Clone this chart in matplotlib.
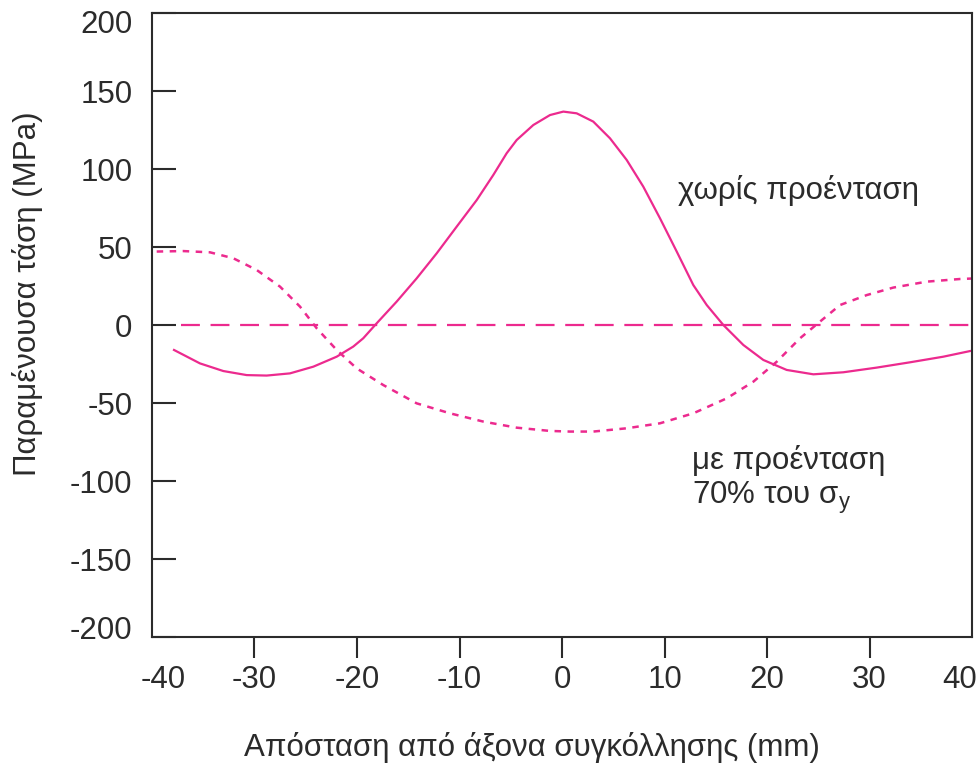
import matplotlib
matplotlib.use("Agg")
import matplotlib.pyplot as plt
from matplotlib.transforms import ScaledTranslation

# ------------------------------
# data
# ------------------------------
x_solid = [-37.85, -35.32, -33.04, -30.76, -28.81, -26.54, -24.26, -21.98, -20.36, -19.39,
           -18.08, -16.13, -14.18, -12.22, -10.27, -8.32, -6.70, -5.40, -4.42, -2.80,
           -1.17, 0.13, 1.43, 3.05, 4.68, 6.31, 7.93, 9.56, 11.19, 12.81,
           14.12, 15.74, 17.69, 19.64, 21.92, 24.52, 27.44, 30.70, 33.95, 37.20, 39.80]
y_solid = [-16.0, -24.6, -29.5, -32.1, -32.4, -31.0, -26.7, -20.3, -13.8, -8.5,
           1.1, 15.0, 29.9, 46.0, 63.1, 80.1, 96.2, 110.1, 118.6, 128.2,
           134.6, 136.8, 135.7, 130.4, 119.7, 105.8, 88.7, 68.4, 47.1, 25.6,
           12.8, 0.0, -12.8, -22.4, -28.8, -31.6, -30.3, -27.3, -23.9, -20.3, -16.7]

x_dot = [-39.54, -36.95, -34.34, -32.07, -29.79, -27.51, -25.56, -23.93, -21.98, -20.03,
         -17.43, -14.18, -10.93, -7.68, -4.42, -1.17, 0.78, 3.05, 6.31, 9.56,
         12.81, 16.07, 18.67, 20.95, 23.22, 25.17, 27.12, 29.73, 32.32, 35.58, 38.83, 40.0]
y_dot = [47.1, 47.4, 46.6, 42.8, 35.3, 24.6, 11.8, -2.1, -16.0, -27.8,
         -38.5, -50.2, -56.6, -61.9, -65.8, -67.9, -68.3, -68.3, -66.2, -63.0,
         -56.6, -47.0, -36.3, -23.5, -8.5, 2.2, 12.8, 19.2, 24.0, 27.8, 29.5, 29.8]

x_zero = [-37.2, 40]
y_zero = [0, 0]

xticks = [-40, -30, -20, -10, 0, 10, 20, 30, 40]
yticks = [-200, -150, -100, -50, 0, 50, 100, 150, 200]

# ------------------------------
# style
# ------------------------------
plt.rcParams["font.family"] = ["Liberation Sans", "DejaVu Sans"]
plt.rcParams["mathtext.fontset"] = "custom"
plt.rcParams["mathtext.rm"] = "Liberation Sans"
plt.rcParams["mathtext.it"] = "Liberation Sans"
plt.rcParams["axes.unicode_minus"] = False

pink = "#ec2a8e"
ink = "#2b2b2b"
fs = 22.5

fig = plt.figure(figsize=(9.78, 7.70), dpi=100)
ax = fig.add_axes([0.1554, 0.1727, 0.8385, 0.8104])

ax.plot(x_solid, y_solid, color=pink, lw=1.6)
ax.plot(x_dot, y_dot, color=pink, lw=1.8, linestyle=(0, (2.6, 2.6)))
ax.plot(x_zero, y_zero, color=pink, lw=1.6, linestyle=(0, (8.5, 4.8)))

ax.set_xlim(-40, 40)
ax.set_ylim(-200, 200)
ax.set_xticks(xticks)
ax.set_yticks(yticks)

for s in ax.spines.values():
    s.set_color(ink)
    s.set_linewidth(1.5)

ax.tick_params(axis="x", direction="out", length=15, width=1.5, color=ink,
               labelsize=fs, labelcolor=ink, pad=5)
ax.tick_params(axis="y", direction="in", length=17, width=1.5, color=ink,
               labelsize=fs, labelcolor=ink, pad=14)

# no tick marks at the ends of the x axis
xt = ax.xaxis.get_major_ticks()
xt[0].tick1line.set_visible(False)
xt[-1].tick1line.set_visible(False)

# end labels sit a little inside the frame
fig.canvas.draw()
xl = ax.get_xticklabels()
yl = ax.get_yticklabels()
xl[0].set_transform(xl[0].get_transform() + ScaledTranslation(0.11, 0, fig.dpi_scale_trans))
xl[-1].set_transform(xl[-1].get_transform() + ScaledTranslation(-0.12, 0, fig.dpi_scale_trans))
yl[0].set_transform(yl[0].get_transform() + ScaledTranslation(0, 0.10, fig.dpi_scale_trans))
yl[-1].set_transform(yl[-1].get_transform() + ScaledTranslation(0, -0.08, fig.dpi_scale_trans))

ax.set_xlabel("Απόσταση από άξονα συγκόλλησης (mm)", fontsize=fs, color=ink)
ax.set_ylabel("Παραμένουσα τάση (MPa)", fontsize=fs, color=ink)
ax.xaxis.set_label_coords(0.463, -0.152)
ax.yaxis.set_label_coords(-0.133, 0.551)

ax.text(11.3, 86, "χωρίς προένταση", fontsize=fs, color=ink, va="center")
ax.text(12.7, -87, "με προένταση", fontsize=fs, color=ink, va="center")
ax.text(12.7, -111, "70% του σ$_{\\mathrm{y}}$", fontsize=fs, color=ink, va="center")

fig.savefig("out.png", dpi=100)
